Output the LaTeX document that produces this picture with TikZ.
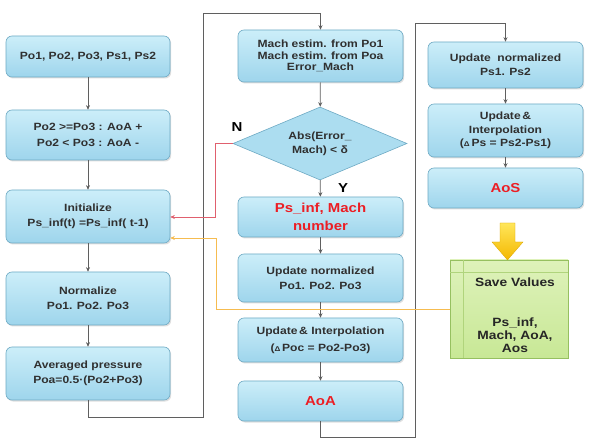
\documentclass[tikz,border=0pt]{standalone}
\usepackage{fontspec}
\setmainfont[FakeStretch=1.15]{Liberation Sans}
\usetikzlibrary{shapes.geometric,shadows,arrows.meta}
\definecolor{boxtop}{RGB}{204,238,249}
\definecolor{boxbot}{RGB}{158,213,236}
\definecolor{boxline}{RGB}{110,170,196}
\definecolor{diafill}{RGB}{172,221,240}
\definecolor{txt}{RGB}{48,48,48}
\definecolor{redtxt}{RGB}{236,30,36}
\definecolor{lineg}{RGB}{95,95,95}
\definecolor{redln}{RGB}{224,96,110}
\definecolor{orln}{RGB}{246,188,80}
\definecolor{grtop}{RGB}{222,242,186}
\definecolor{grbot}{RGB}{200,232,150}
\definecolor{grline}{RGB}{150,192,96}
\definecolor{grinner}{RGB}{176,212,124}
\definecolor{yeltop}{RGB}{255,230,90}
\definecolor{yelbot}{RGB}{244,184,0}
\begin{document}
\begin{tikzpicture}[x=1pt,y=-1pt,
  box/.style={draw=boxline, line width=0.6pt, rounded corners=6pt,
    top color=boxtop, bottom color=boxbot, inner sep=2pt, align=center,
    font=\bfseries\fontsize{10.5}{15}\selectfont, text=txt,
    drop shadow={shadow xshift=1.2pt, shadow yshift=-1.5pt, opacity=0.25}},
  lcol/.style={box, minimum width=164pt},
  mcol/.style={box, minimum width=165pt},
  rcol/.style={box, minimum width=155pt},
  redbig/.style={text=redtxt, font=\bfseries\fontsize{13}{18}\selectfont},
  conn/.style={draw=lineg, line width=0.7pt, -{Stealth[length=4.5pt,width=4pt]}},
  redconn/.style={draw=redln, line width=0.7pt, -{Stealth[length=4.5pt,width=4pt]}},
  orconn/.style={draw=orln, line width=0.7pt, -{Stealth[length=4.5pt,width=4pt]}},
  lbl/.style={font=\bfseries\fontsize{13}{13}\selectfont, text=black},
  savetext/.style={font=\bfseries\fontsize{12}{13}\selectfont, text=black!85, align=center}
]
\useasboundingbox (0,0) rectangle (592,446);
\fill[white] (0,0) rectangle (592,446);

% left column
\node[lcol, minimum height=41pt] (b1) at (88,56.5) {Po1, Po2, Po3, Ps1, Ps2};
\node[lcol, minimum height=50pt, font=\bfseries\fontsize{10.5}{16.5}\selectfont] (b2) at (88,135) {Po2 >=Po3 : AoA +\\Po2 < Po3 : AoA -};
\node[lcol, minimum height=53pt] (b3) at (88,216.5) {Initialize\\Ps\_inf(t) =Ps\_inf( t-1)};
\node[lcol, minimum height=53pt] (b4) at (88,298.5) {Normalize\\Po1. Po2. Po3};
\node[lcol, minimum height=53pt] (b5) at (88,373.5) {Averaged pressure\\Poa=0.5·(Po2+Po3)};

% middle column
\node[mcol, minimum height=52pt, font=\bfseries\fontsize{10.5}{11.5}\selectfont] (m1) at (320.5,56) {Mach estim. from Po1\\Mach estim. from Poa\\Error\_Mach};
\node[diamond, aspect=2.4, draw=boxline, line width=0.6pt, fill=diafill, inner sep=0pt,
  minimum width=174pt, minimum height=73pt, align=center, text=txt,
  font=\bfseries\fontsize{10.5}{14}\selectfont] (dia) at (320,143.5) {Abs(Error\_\\Mach) < δ};
\node[mcol, minimum height=40pt, redbig] (m2) at (320.5,217) {Ps\_inf, Mach\\number};
\node[mcol, minimum height=48pt] (m3) at (320.5,278) {Update normalized\\Po1. Po2. Po3};
\node[mcol, minimum height=44pt, font=\bfseries\fontsize{10.5}{17}\selectfont] (m4) at (320.5,340) {Update\,\& Interpolation\\({\fontsize{7}{7}\selectfont Δ}\,Poc = Po2-Po3)};
\node[mcol, minimum height=40pt, redbig] (m5) at (320.5,401) {AoA};

% right column
\node[rcol, minimum height=46pt, font=\bfseries\fontsize{10.5}{14}\selectfont] (r1) at (505.5,65) {Update\ \ normalized\\Ps1. Ps2};
\node[rcol, minimum height=53pt, font=\bfseries\fontsize{10.5}{13.5}\selectfont] (r2) at (505.5,130.5) {Update\,\&\\Interpolation\\({\fontsize{7}{7}\selectfont Δ}\,Ps = Ps2-Ps1)};
\node[rcol, minimum height=40pt, redbig] (r3) at (505.5,188) {AoS};

% save values box
\node[draw=grline, line width=0.6pt, top color=grtop, bottom color=grbot,
  minimum width=118pt, minimum height=98pt, inner sep=0pt,
  drop shadow={shadow xshift=1.2pt, shadow yshift=-1.5pt, opacity=0.2}] (save) at (509,309) {};
\draw[grinner, line width=0.6pt] (463,260) -- (463,358);
\draw[grinner, line width=0.6pt] (450,272) -- (568,272);
\node[savetext] (savet) at (515,282) {Save Values};
\node[savetext] (savev) at (515,335) {Ps\_inf,\\Mach, AoA,\\Aos};

% yellow arrow
\shade[top color=yeltop, bottom color=yelbot, draw=yelbot!90!black, line width=0.3pt]
  (500,223) -- (515,223) -- (515,242) -- (523,242) -- (507.5,260) -- (492,242) -- (500,242) -- cycle;

% labels
\node[lbl] (nlab) at (237,127) {N};
\node[lbl] (ylab) at (343,188) {Y};

% straight connectors
\draw[conn] (b1) -- (b2);
\draw[conn] (b2) -- (b3);
\draw[conn] (b3) -- (b4);
\draw[conn] (b4) -- (b5);
\draw[conn] (m1) -- (dia);
\draw[conn] (dia) -- (m2);
\draw[conn] (m2) -- (m3);
\draw[conn] (m3) -- (m4);
\draw[conn] (m4) -- (m5);
\draw[conn] (r1) -- (r2);
\draw[conn] (r2) -- (r3);

% loops
\coordinate (l1a) at (203,417);
\coordinate (l1b) at (203,13);
\draw[conn] (b5.south) |- (l1a) -- (l1b) -| (m1.north);
\coordinate (l2a) at (415,437);
\coordinate (l2b) at (415,23);
\draw[conn] (m5.south) |- (l2a) -- (l2b) -| (r1.north);

% feedback lines
\coordinate (rr) at (215,217);
\draw[redconn] (dia.west) -| (rr) -- (b3.east |- rr);
\coordinate (oo) at (216,238);
\draw[orconn] (save.west) -| (oo) -- (b3.east |- oo);
\end{tikzpicture}
\end{document}
